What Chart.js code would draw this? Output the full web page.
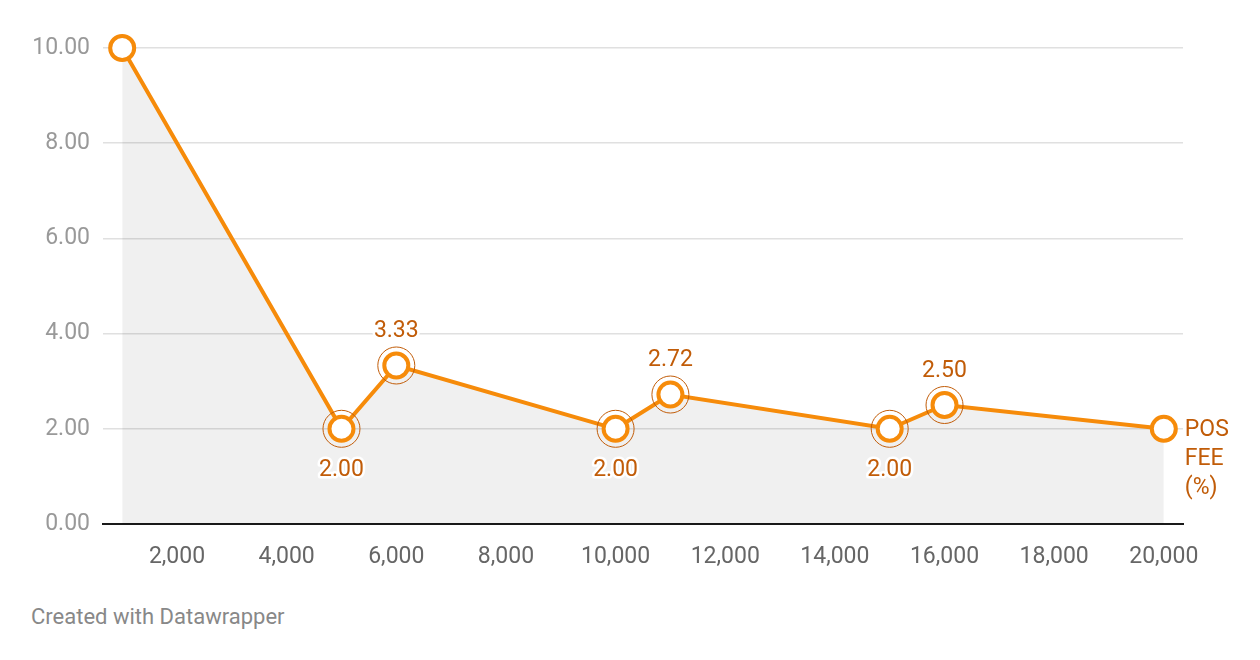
<!DOCTYPE html>
<html>
<head>
<meta charset="utf-8">
<script src="https://cdn.jsdelivr.net/npm/chart.js@4"></script>
<style>
  html, body { margin: 0; padding: 0; background: #fff; }
  body { width: 1260px; height: 660px; position: relative; font-family: Roboto, sans-serif; }
  .wrap { position: absolute; left: 0; top: 0; width: 1260px; height: 582px; }
  .note { position: absolute; left: 31px; top: 603px; font-size: 22px; line-height: 28px; color: #888; }
</style>
</head>
<body>
<div class="wrap"><canvas id="c"></canvas></div>
<div class="note">Created with Datawrapper</div>
<script>
// POS fee (%) by transaction amount
const amounts = [1000, 5000, 6000, 10000, 11000, 15000, 16000, 20000];
const fees = [10.0, 2.0, 3.33, 2.0, 2.72, 2.0, 2.5, 2.0];
const labelled = [1, 2, 3, 4, 5, 6];
const xTicks = [2000, 4000, 6000, 8000, 10000, 12000, 14000, 16000, 18000, 20000];
const yTicks = [0, 2, 4, 6, 8, 10];
const seriesName = ["POS", "FEE", "(%)"];

const ORANGE = "#f68b0a";
const DARK = "#c15c08";

const annotate = {
  id: "annotate",
  afterDatasetsDraw(chart) {
    const c = chart.ctx;
    const pts = chart.getDatasetMeta(0).data;
    c.save();
    c.font = "23px Roboto, sans-serif";
    c.textAlign = "center";
    c.textBaseline = "middle";
    c.lineJoin = "round";
    labelled.forEach((i) => {
      const p = pts[i];
      c.beginPath();
      c.arc(p.x, p.y, 18.5, 0, Math.PI * 2);
      c.strokeStyle = DARK;
      c.lineWidth = 1;
      c.stroke();
      const v = fees[i];
      const prev = fees[i - 1], next = fees[i + 1];
      const below = v <= prev && v <= next;
      const ty = below ? p.y + 41 : p.y - 34;
      const txt = v.toFixed(2);
      c.strokeStyle = "#fff";
      c.lineWidth = 5;
      c.strokeText(txt, p.x, ty);
      c.fillStyle = DARK;
      c.fillText(txt, p.x, ty);
    });
    const last = pts[pts.length - 1];
    c.textAlign = "left";
    c.fillStyle = DARK;
    seriesName.forEach((s, k) => c.fillText(s, last.x + 21, last.y + 1 + k * 29));
    c.restore();
  },
};

new Chart(document.getElementById("c"), {
  type: "line",
  data: {
    datasets: [{
      data: amounts.map((x, i) => ({ x, y: fees[i] })),
      borderColor: ORANGE,
      borderWidth: 4,
      backgroundColor: "rgba(0,0,0,0.06)",
      fill: "origin",
      tension: 0,
      pointRadius: 12,
      pointHoverRadius: 12,
      pointBorderWidth: 4,
      pointBackgroundColor: "#fff",
      pointBorderColor: ORANGE,
      clip: false,
    }],
  },
  options: {
    responsive: true,
    maintainAspectRatio: false,
    animation: false,
    events: [],
    layout: { padding: { top: 48, right: 77, left: 0, bottom: 0 } },
    plugins: { legend: { display: false }, tooltip: { enabled: false } },
    scales: {
      x: {
        type: "linear",
        min: 650,
        max: 20350,
        afterBuildTicks: (s) => { s.ticks = xTicks.map((v) => ({ value: v })); },
        afterFit: (s) => { s.height = 58; },
        grid: { display: false },
        border: { display: true, color: "#1a1a1a", width: 2 },
        ticks: {
          color: "#666",
          padding: 11,
          font: { family: "Roboto", size: 23 },
          maxRotation: 0,
          callback: (v) => v.toLocaleString("en-US"),
        },
      },
      y: {
        min: 0,
        max: 10,
        afterBuildTicks: (s) => { s.ticks = yTicks.map((v) => ({ value: v })); },
        afterFit: (s) => { s.width = 103; },
        grid: { color: "#e0e0e0", lineWidth: 1.5, drawTicks: false },
        border: { display: false },
        ticks: {
          color: "#999",
          padding: 13,
          font: { family: "Roboto", size: 23 },
          callback: (v) => v.toFixed(2),
        },
      },
    },
  },
  plugins: [annotate],
});
</script>
</body>
</html>
